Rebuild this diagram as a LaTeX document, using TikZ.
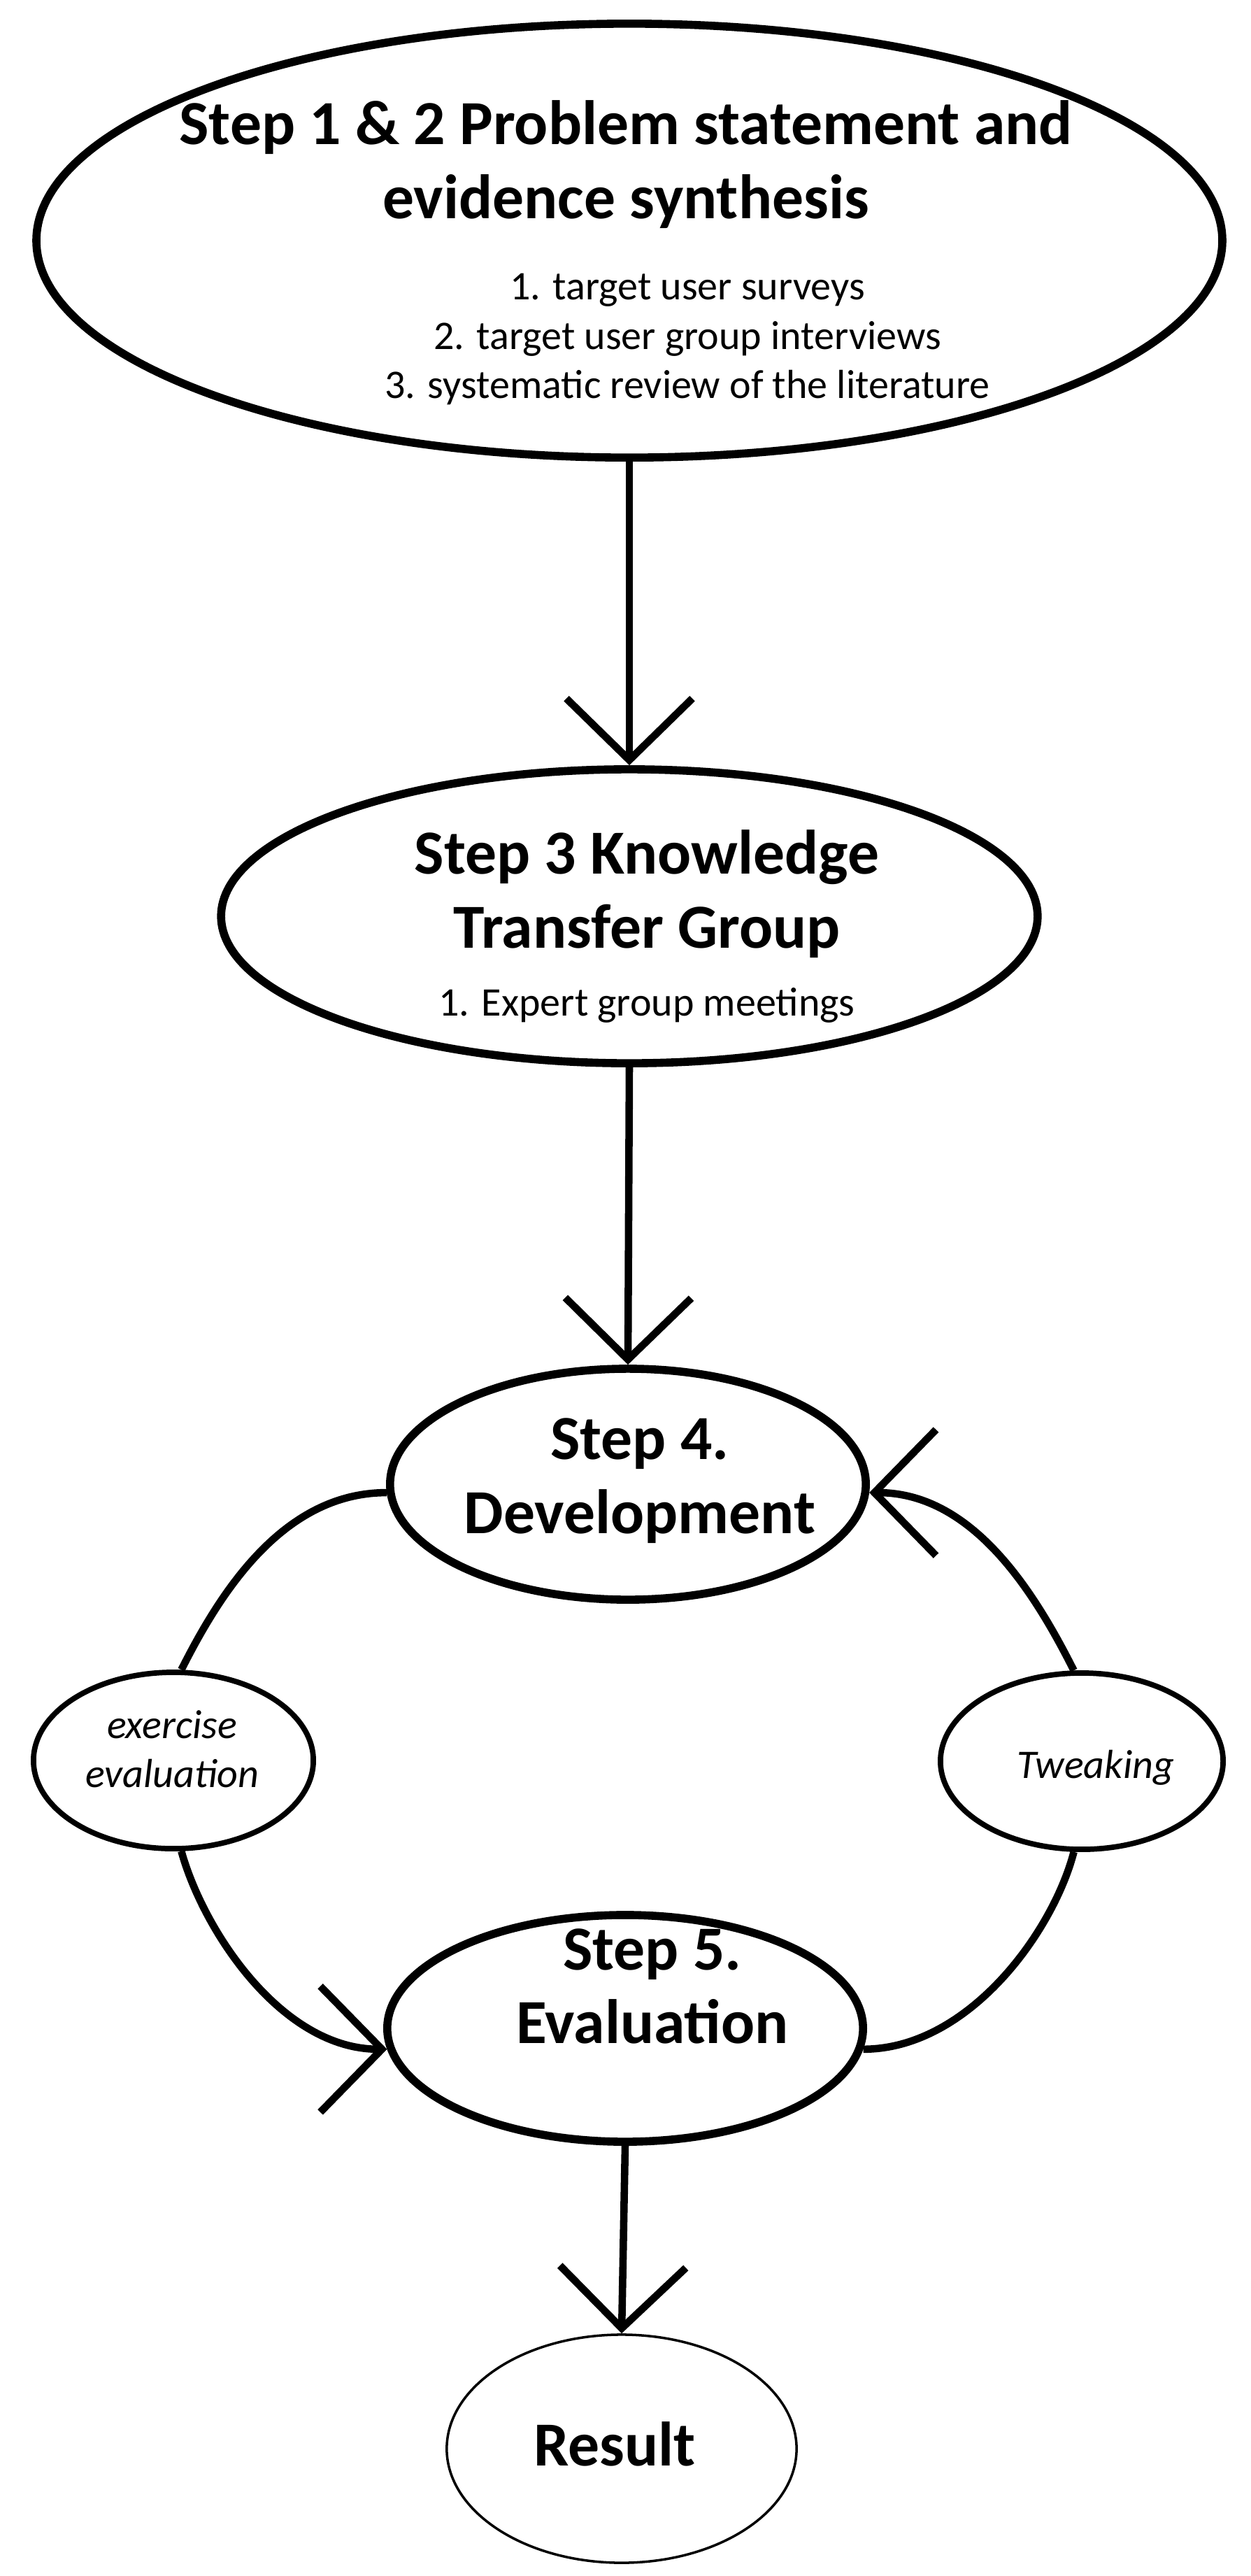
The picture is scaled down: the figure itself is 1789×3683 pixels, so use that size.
\documentclass[tikz,border=0pt]{standalone}
\usepackage{fontspec}
\setmainfont{Carlito}
\usetikzlibrary{shapes.geometric,arrows.meta}

\begin{document}
\begin{tikzpicture}[x=0.01cm,y=-0.01cm,
  stepnode/.style={ellipse,draw=black,line width=3.3pt,inner sep=0pt},
  sidenode/.style={ellipse,draw=black,line width=2.2pt,inner sep=0pt},
  endnode/.style={ellipse,draw=black,line width=1pt,inner sep=0pt},
  steptext/.style={font=\fontsize{25.5}{30}\selectfont\bfseries,align=center,inner sep=0pt},
  subtext/.style={font=\fontsize{16.5}{20}\selectfont,align=center,inner sep=0pt},
  link/.style={line width=3pt},
  >={Straight Barb[length=0.88cm,width=1.8cm]}]
\useasboundingbox (0,0) rectangle (1789,3683);

% the ellipses
\node[stepnode,minimum width=16.95cm,minimum height=6.2cm] (prob) at (900,344) {};
\node[stepnode,minimum width=11.67cm,minimum height=4.2cm] (ktg) at (900,1310) {};
\node[stepnode,minimum width=6.8cm,minimum height=3.3cm] (dev) at (898,2122) {};
\node[sidenode,minimum width=4cm,minimum height=2.52cm] (exev) at (248,2517) {};
\node[sidenode,minimum width=4.04cm,minimum height=2.52cm] (tweak) at (1547,2518) {};
\node[stepnode,minimum width=6.8cm,minimum height=3.24cm] (eval) at (894,2900) {};
\node[endnode,minimum width=5cm,minimum height=3.26cm] (res) at (889,3501) {};

% texts
\node[steptext] (probtxt) at (895,235) {Step 1 \& 2 Problem statement and\\evidence synthesis};
\node[subtext] (problist) at (983,485) {1. target user surveys\\2. target user group interviews\\3. systematic review of the literature};
\node[steptext] (ktgtxt) at (925,1278) {Step 3 Knowledge\\Transfer Group};
\node[subtext] (ktglist) at (925,1437) {1. Expert group meetings};
\node[steptext] (devtxt) at (915,2117) {Step 4.\\Development};
\node[subtext,font=\fontsize{16.5}{20}\selectfont\itshape] (exevtxt) at (246,2501) {exercise\\evaluation};
\node[subtext,font=\fontsize{16.5}{20}\selectfont\itshape] (tweaktxt) at (1567,2527) {Tweaking};
\node[steptext] (evaltxt) at (933,2840) {Step 5.\\Evaluation};
\node[steptext] (restxt) at (879,3494) {Result};

% connectors
\draw[link,->] (prob.south) -- (ktg.north);
\draw[link,->] (ktg.south) -- (dev.north);
\draw[link] (dev.182) .. controls +(-150,0) and +(54,-107) .. (exev.85);
\draw[link,->] (exev.-85) .. controls +(32,115) and +(-150,0) .. (eval.185);
\draw[link] (eval.-5) .. controls +(150,0) and +(-30,115) .. (tweak.-95);
\draw[link,->] (tweak.95) .. controls +(-54,-107) and +(150,0) .. (dev.-2);
\draw[link,->] (eval.south) -- (res.north);
\end{tikzpicture}
\end{document}
